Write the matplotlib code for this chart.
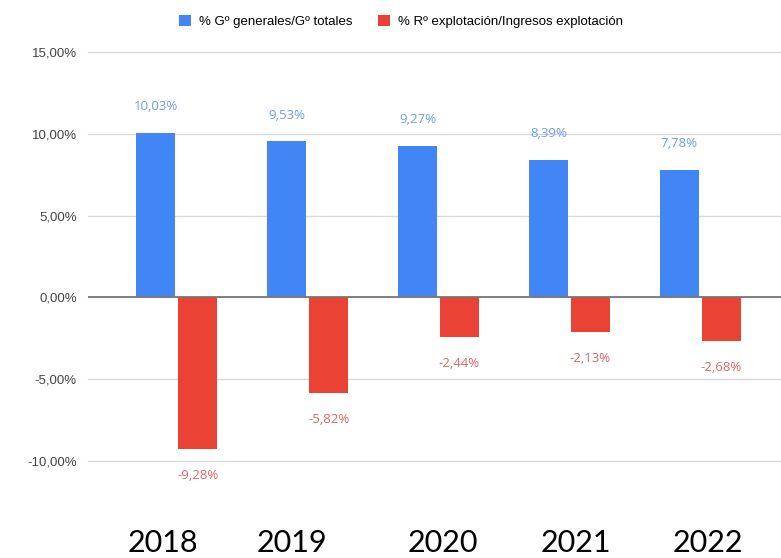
import matplotlib.pyplot as plt
import numpy as np

# datos
years = ["2018", "2019", "2020", "2021", "2022"]
gastos = [10.03, 9.53, 9.27, 8.39, 7.78]
resultado = [-9.28, -5.82, -2.44, -2.13, -2.68]
# desplazamiento de las etiquetas de año respecto al grupo
year_shift = [-0.11, -0.12, 0.03, 0.05, 0.06]

lbl_gastos = "% Gº generales/Gº totales"
lbl_res = "% Rº explotación/Ingresos explotación"

blue = "#4285f4"
red = "#ea4335"

fig = plt.figure(figsize=(7.81, 5.58), dpi=100)
ax = fig.add_axes([88 / 781, 1 - 461 / 558, 1 - 88 / 781, (461 - 52) / 558])

x = np.arange(len(years))
w = 0.298
ax.bar(x - 0.16, gastos, w, color=blue, label=lbl_gastos, zorder=3)
ax.bar(x + 0.16, resultado, w, color=red, label=lbl_res, zorder=3)

# etiquetas de valores
for xi, v in zip(x, gastos):
    ax.annotate(f"{v:.2f}%".replace(".", ","), (xi - 0.16, v), xytext=(0, 19),
                textcoords="offset points", ha="center", va="center",
                fontsize=9.5, color="#6d9eeb", family="Open Sans", clip_on=False)
for xi, v in zip(x, resultado):
    ax.annotate(f"{v:.2f}%".replace(".", ","), (xi + 0.16, v), xytext=(0, -19),
                textcoords="offset points", ha="center", va="center",
                fontsize=9.5, color="#e06666", family="Open Sans", clip_on=False)

ax.set_xlim(-0.679, 4.618)
ax.set_ylim(-10, 15)
ax.set_yticks(range(-10, 16, 5))
ax.set_yticklabels([f"{t},00%" for t in range(-10, 16, 5)],
                   fontsize=9.5, color="#444444", family="Liberation Sans")
ax.set_xticks(x + np.array(year_shift))
ax.set_xticklabels(years, fontsize=22, family="Lato", color="#000000")
ax.tick_params(axis="x", length=0, pad=49)
ax.tick_params(axis="y", length=0, pad=8)

ax.grid(axis="y", color="#d9d9d9", linewidth=1, zorder=0)
for gl in ax.get_ygridlines():
    gl.set_clip_on(False)
ax.axhline(0, color="#777777", linewidth=1.3, zorder=4)
for s in ax.spines.values():
    s.set_visible(False)

fig.legend(loc="upper center", bbox_to_anchor=(401 / 781, 1 - 3 / 558), ncol=2,
           frameon=False, handlelength=0.9, handleheight=0.9, columnspacing=2,
           handletextpad=0.6, prop={"family": "Liberation Sans", "size": 9.5})

fig.savefig("out.png", dpi=100)
